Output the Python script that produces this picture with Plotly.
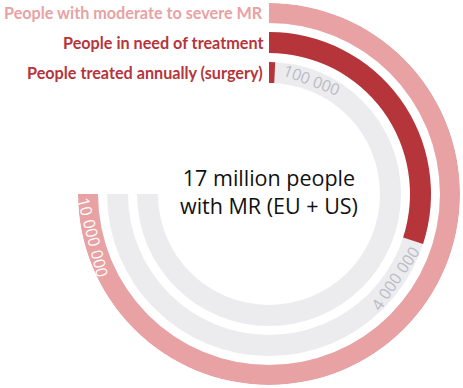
import math
import plotly.graph_objects as go

# ---- data ----
series_labels = ["People with moderate to severe MR",
                 "People in need of treatment",
                 "People treated annually (surgery)"]
series_values = [10_000_000, 4_000_000, 100_000]
value_labels = ["10 000 000", "4 000 000", "100 000"]
scale_max = 10_000_000
center_text = "17 million people<br>with MR (EU + US)"

# ---- style ----
W, H = 463, 388
colors = ["#E8A2A4", "#B5353B", "#B5353B"]
label_colors = ["#E8A2A4", "#B5353B", "#B5353B"]
value_label_colors = ["#FFFFFF", "#BBBBC5", "#BBBBC5"]
track_color = "#ECECEF"
sweep = 270.0
R = 191.0
ring_inner = [171.0, 141.0, 111.0]
ring_thick = [20.0, 21.0, 21.0]
cx, cy = 269.0, 194.0
font_label = "Lato"

fig = go.Figure()
angles = [v / scale_max * sweep for v in series_values]

for i in range(3):
    fig.add_trace(go.Barpolar(
        r=[ring_thick[i]], base=[ring_inner[i]], theta=[sweep / 2], width=[sweep],
        marker=dict(color=track_color, line=dict(width=0)),
        hoverinfo="skip", showlegend=False))
    fig.add_trace(go.Barpolar(
        r=[ring_thick[i]], base=[ring_inner[i]], theta=[angles[i] / 2], width=[angles[i]],
        marker=dict(color=colors[i], line=dict(width=0)),
        name=series_labels[i], showlegend=False))

fig.update_layout(
    width=W, height=H, margin=dict(l=0, r=0, t=0, b=0),
    paper_bgcolor="white", plot_bgcolor="white",
    polar=dict(
        domain=dict(x=[(cx - R) / W, (cx + R) / W], y=[1 - (cy + R) / H, 1 - (cy - R) / H]),
        bgcolor="rgba(0,0,0,0)",
        radialaxis=dict(range=[0, R], visible=False),
        angularaxis=dict(rotation=90, direction="clockwise", visible=False),
        bargap=0,
    ),
)


def to_paper(theta_deg, r):
    t = math.radians(theta_deg)
    px = cx + r * math.sin(t)
    py = cy - r * math.cos(t)
    return px / W, 1 - py / H


# series labels, right aligned left of the rings' starting point
for i in range(3):
    rc = ring_inner[i] + ring_thick[i] / 2
    x, y = to_paper(0, rc)
    fig.add_annotation(x=(cx - 4) / W, y=y, xref="paper", yref="paper",
                       text="<b>" + series_labels[i] + "</b>", showarrow=False,
                       xanchor="right", yanchor="middle",
                       font=dict(family=font_label, size=16.2, color=label_colors[i]))

# value labels along the rings
offsets = [-14.0, 16.0, 18.0]
for i in range(3):
    rc = ring_inner[i] + ring_thick[i] / 2
    th = angles[i] + offsets[i]
    x, y = to_paper(th, rc)
    if 90 < (th % 360) < 270 or i == 0:
        ang = th + 180
    else:
        ang = th
    ang = ((ang + 180) % 360) - 180
    fig.add_annotation(x=x, y=y, xref="paper", yref="paper", text=value_labels[i],
                       showarrow=False, textangle=ang, xanchor="center", yanchor="middle",
                       font=dict(family="Open Sans", size=16, color=value_label_colors[i]))

fig.add_annotation(x=cx / W, y=1 - (cy - 3) / H, xref="paper", yref="paper",
                   text=center_text, showarrow=False, xanchor="center", yanchor="middle",
                   align="center",
                   font=dict(family="Open Sans", size=21.5, color="#111111"))

fig.write_html("out.html", config={"displayModeBar": False},
               post_script="document.body.style.margin='0';")
